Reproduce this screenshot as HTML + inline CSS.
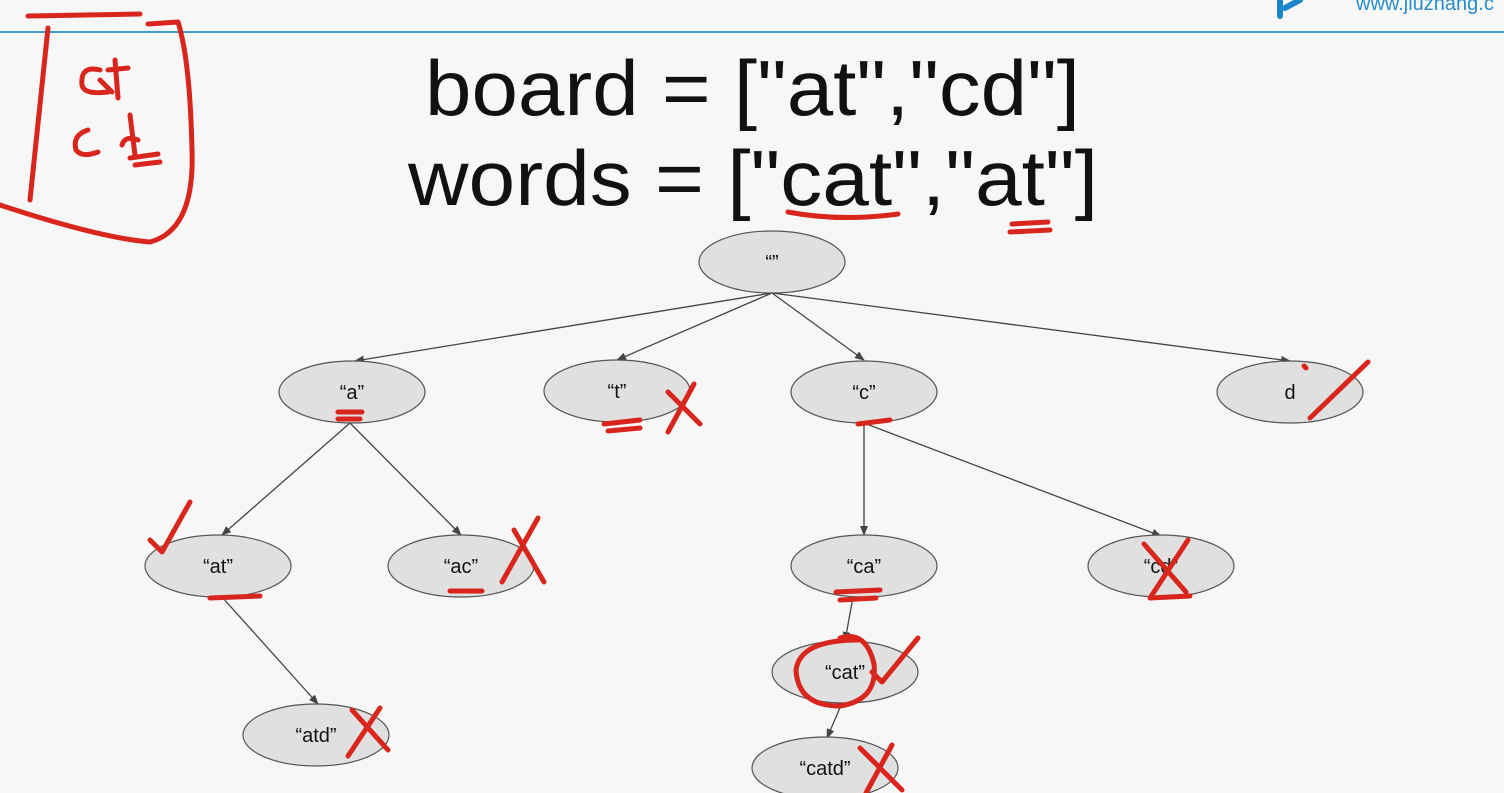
<!DOCTYPE html>
<html><head><style>
html,body{margin:0;padding:0;background:#f7f7f7;}
svg{display:block;}
text{font-family:"Liberation Sans",sans-serif;}
</style></head><body>
<svg width="1504" height="793" viewBox="0 0 1504 793" xmlns="http://www.w3.org/2000/svg">
<defs><marker id="ar" markerWidth="10" markerHeight="8" refX="9" refY="4" orient="auto" markerUnits="userSpaceOnUse"><path d="M0,0 L10,4 L0,8 z" fill="#444"/></marker></defs>
<rect width="1504" height="793" fill="#f7f7f7"/>
<line x1="0" y1="32" x2="1504" y2="32" stroke="#3a9fd0" stroke-width="2"/>
<path d="M1280,0 L1280,16 M1285,8 L1300,0" stroke="#1b86cc" stroke-width="6" stroke-linecap="round" fill="none"/>
<text x="1356" y="10" font-size="20" fill="#2a8ccc">www.jiuzhang.c</text>
<text x="425" y="115" font-size="78" textLength="655" lengthAdjust="spacingAndGlyphs" fill="#111">board = ["at","cd"]</text>
<text x="408" y="205" font-size="78" textLength="690" lengthAdjust="spacingAndGlyphs" fill="#111">words = ["cat","at"]</text>
<g stroke="#444" stroke-width="1.3" marker-end="url(#ar)">
<line x1="772" y1="293" x2="355" y2="361"/>
<line x1="772" y1="293" x2="617" y2="360"/>
<line x1="772" y1="293" x2="864" y2="360"/>
<line x1="772" y1="293" x2="1290" y2="361"/>
<line x1="350" y1="423" x2="222" y2="535"/>
<line x1="350" y1="423" x2="461" y2="535"/>
<line x1="864" y1="423" x2="864" y2="535"/>
<line x1="864" y1="423" x2="1161" y2="536"/>
<line x1="222" y1="597" x2="318" y2="704"/>
<line x1="853" y1="597" x2="845" y2="641"/>
<line x1="842" y1="703" x2="827" y2="738"/>
</g>
<g fill="#e0e0e0" stroke="#555" stroke-width="1.2">
<ellipse cx="772" cy="262" rx="73" ry="31"/>
<ellipse cx="352" cy="392" rx="73" ry="31"/>
<ellipse cx="617" cy="391" rx="73" ry="31"/>
<ellipse cx="864" cy="392" rx="73" ry="31"/>
<ellipse cx="1290" cy="392" rx="73" ry="31"/>
<ellipse cx="218" cy="566" rx="73" ry="31"/>
<ellipse cx="461" cy="566" rx="73" ry="31"/>
<ellipse cx="864" cy="566" rx="73" ry="31"/>
<ellipse cx="1161" cy="566" rx="73" ry="31"/>
<ellipse cx="316" cy="735" rx="73" ry="31"/>
<ellipse cx="845" cy="672" rx="73" ry="31"/>
<ellipse cx="825" cy="768" rx="73" ry="31"/>
</g>
<g font-size="20" text-anchor="middle" fill="#111">
<text x="772" y="269">“”</text>
<text x="352" y="399">“a”</text>
<text x="617" y="398">“t”</text>
<text x="864" y="399">“c”</text>
<text x="1290" y="399">d</text>
<text x="218" y="573">“at”</text>
<text x="461" y="573">“ac”</text>
<text x="864" y="573">“ca”</text>
<text x="1161" y="573">“cd”</text>
<text x="316" y="742">“atd”</text>
<text x="845" y="679">“cat”</text>
<text x="825" y="775">“catd”</text>
</g>
<g stroke="#d9261c" stroke-width="5" fill="none" stroke-linecap="round" stroke-linejoin="round">
<path d="M28,16 L140,14 M48,28 L30,200 M148,24 L178,22 Q190,60 192,150 Q195,230 150,242 Q100,238 0,205"/>
<path d="M100,70 Q80,65 82,85 Q84,95 108,92 M100,80 L112,92 M115,60 L118,98 M108,70 L128,68"/>
<path d="M88,130 Q72,135 76,150 Q82,158 98,152 M130,115 L135,155 M122,145 Q125,135 138,140 M130,158 L158,154 M135,165 L160,162"/>
<path d="M788,212 Q840,222 898,214 M1012,224 L1048,222 M1010,232 L1050,230"/>
<path d="M338,412 L362,412 M338,419 L360,419"/>
<path d="M604,424 L640,420 M608,431 L640,428 M668,392 L700,424 M694,384 L668,432"/>
<path d="M858,424 L890,420"/>
<path d="M1310,418 L1368,362 M1304,366 L1306,368"/>
<path d="M150,540 L162,552 L190,502"/>
<path d="M210,598 L260,596"/>
<path d="M450,591 L482,591 M502,582 L538,518 M514,530 L544,582"/>
<path d="M836,592 L880,590 M840,600 L876,598"/>
<path d="M1144,544 L1186,592 M1188,540 L1150,598 L1190,596"/>
<path d="M858,640 Q800,640 796,670 Q798,706 840,706 Q878,700 874,664 Q866,630 840,638 M872,672 L882,682 L918,638"/>
<path d="M352,710 L388,750 M380,708 L348,756"/>
<path d="M860,748 L902,790 M892,745 L866,793"/>
</g>
</svg>
</body></html>
